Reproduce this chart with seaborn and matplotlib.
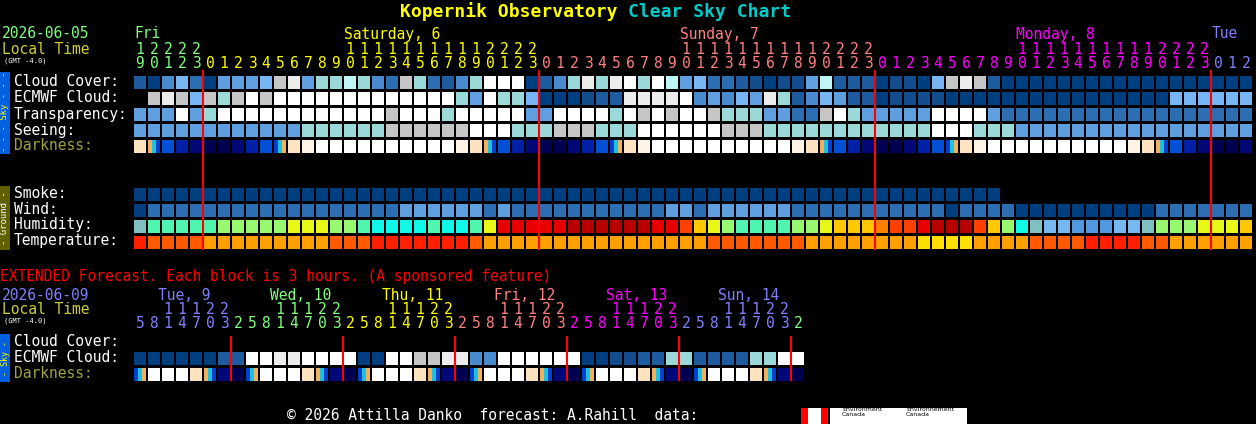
import matplotlib
matplotlib.use("Agg")
import matplotlib.pyplot as plt
import seaborn as sns

sns.set_style("dark", {"axes.facecolor": "black", "figure.facecolor": "black"})
plt.rcParams['font.family'] = ['DejaVu Sans Mono']

# ---------------- data ----------------
hours_main = [19,20,21,22,23] + list(range(24))*3 + [0,1,2]
day_of_col_main = [0]*5 + [1]*24 + [2]*24 + [3]*24 + [4]*3
day_labels_main = ["Fri", "Saturday, 6", "Sunday, 7", "Monday, 8", "Tue"]
day_colors = ["#80FF80", "#FFFF00", "#FF8080", "#FF00FF", "#8080FF"]

cloud_cover  = "20463" "05556" "9w577" "87439" "73247" "WWW02" "47w7w" "W7W85" "63321" "01158" "22201" "1069w" "92000" "000000000000000"
ecmwf_cloud  = "x9w96" "979W9" "WWWWWWWWWWWWW" "75W77" "6000122" "wwwwW45465w7246522" "011110000000000000000" "666666"
transparency = "555W57WWWW" "WWWWWWWW9W" "WW7WWWWW55" "WWWW7W9W9W" "W977755339" "W755555WWW" "W533333333" "3333333333"
seeing       = "555555555555" "777777" "999999" "WWW" "777" "999" "777" "WWWWWW" "999" "777777777777" "WWW" "777" "55555555555555555"
darkness     = "pTBbn" "NNnbBDpPWWWWWWWWWWPpTBbn" "NNnbBDpPWWWWWWWWWWPpTBbn" "NNnbBDpPWWWWWWWWWWPpTBbn" "NNn"
smoke        = "0"*62
wind         = "0" "333333333333333333" "555555" "3" "5" "33333333333" "55" "3" "555555" "33333333333" "0" "3333" "0000000000" "3333333"
humidity     = "gmmmmmllll" "lyyyllmccc" "cmccmyrrrr" "rRRRRRRrro" "aylmmmmlly" "aaaAoorRRR" "oalcgLLMMM" "LLglllyyya"
temperature  = "Rssssaaaaa" "aaaasssRRR" "RRRRsaaaaa" "aaaaaaaaaa" "asssssssaa" "aaaaaayyyy" "aaaassssRR" "RRssaaaaaa"

hours_ext = [5,8,11,14,17,20,23] + [2,5,8,11,14,17,20,23]*5 + [2]
day_of_col_ext = [0]*7 + [1]*8 + [2]*8 + [3]*8 + [4]*8 + [5]*8 + [6]
day_labels_ext = ["Tue, 9", "Wed, 10", "Thu, 11", "Fri, 12", "Sat, 13", "Sun, 14"]
ext_colors = ["#8080FF", "#80FF80", "#FFFF00", "#FF8080", "#FF00FF", "#8080FF", "#80FF80"]
ext_ecmwf    = "000000" "22" "WW" "ww" "WW" "WW" "00" "WW" "99" "ww" "44" "WW" "WW" "WW" "00" "11" "22" "77" "22" "22" "77" "WW"
ext_darkness = "DWWWpTn" "NDWWWpTn" "NDWWWpTn" "NDWWWpTn" "NDWWWpTn" "NDWWWpTn" "N"

cloud_pal = {"0": "#003F7F", "1": "#134D8E", "2": "#1F5C9F", "3": "#2D6DB2", "4": "#4A8ACF",
             "5": "#5F9FE0", "6": "#77B5F5", "7": "#9BD9D9", "8": "#BFF5F5", "9": "#C6C6C6",
             "w": "#ECECEC", "W": "#FFFFFF", "x": "#000000"}
dark_pal = {"W": "#FFFFFF", "P": "#FFF4E6", "p": "#FDE3C0", "B": "#0050D8",
            "b": "#0020A8", "n": "#000878", "N": "#000050"}
twilight_dusk = ["#F0B060", "#20C0E0", "#0040D0"]
twilight_dawn = ["#0040D0", "#20C0E0", "#F0B060"]
hum_pal = {"g": "#80C0C0", "m": "#50F5B0", "l": "#98F870", "y": "#E8F818", "c": "#10F8E8",
           "r": "#E80000", "R": "#B80000", "o": "#FF4000", "a": "#FFC800", "A": "#FF8000",
           "L": "#78B8F0", "M": "#5098E0"}
temp_pal = {"R": "#FF2000", "s": "#FF5A00", "a": "#FFA000", "y": "#FFE000"}

# ---------------- drawing ----------------
fig = plt.figure(figsize=(12.56, 4.24), dpi=100)
ax = fig.add_axes([0, 0, 1, 1])
ax.set_xlim(0, 1256)
ax.set_ylim(424, 0)
ax.axis("off")

X0, PITCH, BW, BH = 134, 14, 12, 13
FS = 10.5

def row(codes, pal, top):
    idx = [i for i, c in enumerate(codes) if c in pal and c != "x"]
    ax.bar([X0 + PITCH * i for i in idx], BH, width=BW, bottom=top, align="edge",
           color=[pal[codes[i]] for i in idx], linewidth=0)
    for code, stripes in (("T", twilight_dusk), ("D", twilight_dawn)):
        for i, c in enumerate(codes):
            if c == code:
                sw = BW / len(stripes)
                ax.bar([X0 + PITCH * i + sw * k for k in range(len(stripes))], BH, width=sw,
                       bottom=top, align="edge", color=stripes, linewidth=0)

# title
ax.text(628, 12, "Kopernik Observatory ", color="#FFFF00", fontsize=13, fontweight="bold", ha="right", va="center")
ax.text(628, 12, "Clear Sky Chart", color="#00CCCC", fontsize=13, fontweight="bold", ha="left", va="center")

# header main
ax.text(2, 34, "2026-06-05", color="#80FF80", fontsize=FS, va="center")
ax.text(2, 50, "Local Time", color="#CCCC33", fontsize=FS, va="center")
ax.text(4, 61, "(GMT -4.0)", color="white", fontsize=5, va="center")

def label_col(hours, days, d):
    cols = [i for i, dd in enumerate(days) if dd == d]
    tens = [i for i in cols if hours[i] >= 10]
    return tens[0] if tens else cols[0]

for d, lab in enumerate(day_labels_main):
    ax.text(X0 + PITCH * label_col(hours_main, day_of_col_main, d), 34, lab, color=day_colors[d], fontsize=FS, va="center")
for i, h in enumerate(hours_main):
    c = day_colors[day_of_col_main[i]]
    cx = X0 + PITCH * i + 6
    if h >= 10:
        ax.text(cx, 49, str(h // 10), color=c, fontsize=FS, ha="center", va="center")
    ax.text(cx, 64, str(h % 10), color=c, fontsize=FS, ha="center", va="center")

labels = [("Cloud Cover:", 82, "white"), ("ECMWF Cloud:", 98, "white"), ("Transparency:", 114, "white"),
          ("Seeing:", 130, "white"), ("Darkness:", 146, "#A0A040"),
          ("Smoke:", 193, "white"), ("Wind:", 209, "white"), ("Humidity:", 225, "white"), ("Temperature:", 241, "white")]
for t, y, c in labels:
    ax.text(14, y, t, color=c, fontsize=FS, va="center")

row(cloud_cover, cloud_pal, 76)
row(ecmwf_cloud, cloud_pal, 92)
row(transparency, cloud_pal, 108)
row(seeing, cloud_pal, 124)
row(darkness, dark_pal, 140)
row(smoke, cloud_pal, 188)
row(wind, cloud_pal, 204)
row(humidity, hum_pal, 220)
row(temperature, temp_pal, 236)

mid_main = [i for i, h in enumerate(hours_main) if h == 0]
ax.vlines([X0 + PITCH * i - 1 for i in mid_main], 70, 250, color="#FF0000", lw=1.5)

# side bars
ax.bar([0], 82, width=10, bottom=72, align="edge", color="#0060E0", linewidth=0)
ax.text(5, 112, "- - - Sky - - -", color="#FFFF00", fontsize=6.5, rotation=90, ha="center", va="center")
ax.bar([0], 64, width=10, bottom=186, align="edge", color="#606000", linewidth=0)
ax.text(5, 218, "- Ground -", color="white", fontsize=6.5, rotation=90, ha="center", va="center")

# extended
ax.text(0, 276, "EXTENDED Forecast. Each block is 3 hours. (A sponsored feature)", color="#FF0000", fontsize=FS, va="center")
ax.text(2, 295, "2026-06-09", color="#8080FF", fontsize=FS, va="center")
ax.text(2, 310, "Local Time", color="#CCCC33", fontsize=FS, va="center")
ax.text(4, 321, "(GMT -4.0)", color="white", fontsize=5, va="center")
for d, lab in enumerate(day_labels_ext):
    ax.text(X0 + PITCH * label_col(hours_ext, day_of_col_ext, d) - 4, 295, lab,
            color=ext_colors[d], fontsize=FS, va="center")
for i, h in enumerate(hours_ext):
    c = ext_colors[day_of_col_ext[i]]
    cx = X0 + PITCH * i + 6
    if h >= 10:
        ax.text(cx, 310, str(h // 10), color=c, fontsize=FS, ha="center", va="center")
    ax.text(cx, 324, str(h % 10), color=c, fontsize=FS, ha="center", va="center")
for t, y, c in [("Cloud Cover:", 341, "white"), ("ECMWF Cloud:", 357, "white"), ("Darkness:", 373, "#A0A040")]:
    ax.text(14, y, t, color=c, fontsize=FS, va="center")
row(ext_ecmwf, cloud_pal, 352)
row(ext_darkness, dark_pal, 368)
ax.bar([0], 48, width=10, bottom=334, align="edge", color="#0060E0", linewidth=0)
ax.text(5, 358, "- Sky -", color="#FFFF00", fontsize=6, rotation=90, ha="center", va="center")
mid_ext = [i for i, h in enumerate(hours_ext) if h == 2]
ax.vlines([X0 + PITCH * i - 1 for i in mid_ext], 336, 381, color="#FF0000", lw=1.5)

# footer
ax.text(287, 415, "© 2026 Attilla Danko  forecast: A.Rahill  data:", color="white", fontsize=FS, va="center")
ax.bar([801], 16, width=27, bottom=408, align="edge", color="#FF0000", linewidth=0)
ax.bar([808], 16, width=13, bottom=408, align="edge", color="white", linewidth=0)
ax.bar([830], 16, width=137, bottom=408, align="edge", color="white", linewidth=0)
ax.text(842, 412, "Environment\nCanada", color="black", fontsize=4.5, va="center", family="DejaVu Sans", linespacing=0.9)
ax.text(906, 412, "Environnement\nCanada", color="black", fontsize=4.5, va="center", family="DejaVu Sans", linespacing=0.9)

fig.savefig("out.png", dpi=100, facecolor="black")
